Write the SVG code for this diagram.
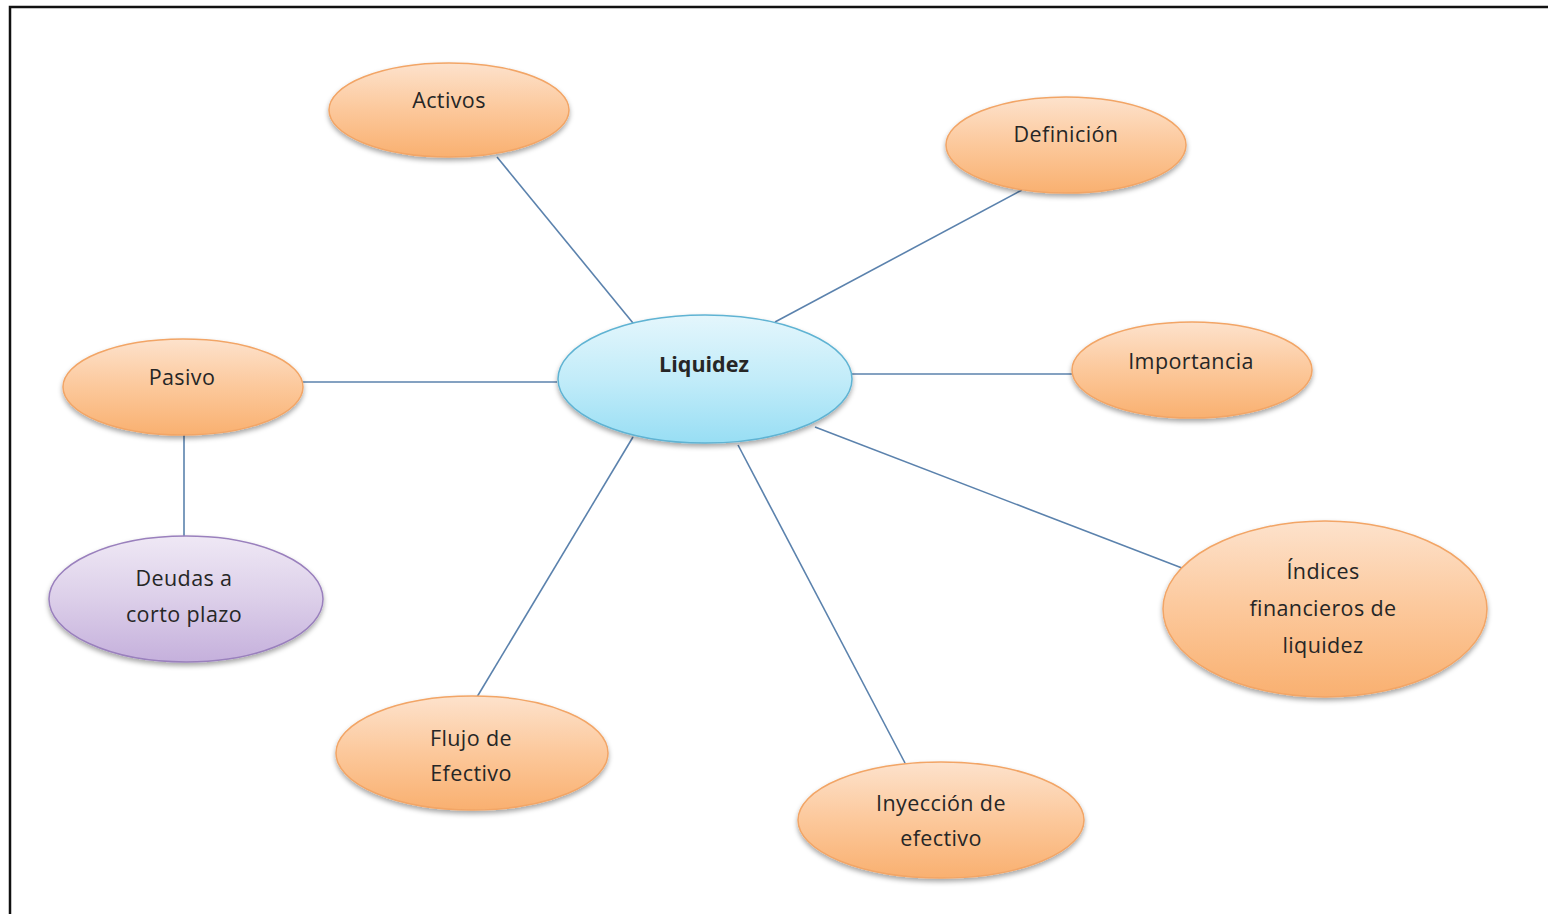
<svg xmlns="http://www.w3.org/2000/svg" width="1548" height="914" viewBox="0 0 1548 914">
  <defs>
    <linearGradient id="gOrange" x1="0" y1="0" x2="0" y2="1">
      <stop offset="0" stop-color="#fde2cc"/>
      <stop offset="0.5" stop-color="#fcc89b"/>
      <stop offset="1" stop-color="#f9b070"/>
    </linearGradient>
    <linearGradient id="gBlue" x1="0" y1="0" x2="0" y2="1">
      <stop offset="0" stop-color="#e4f6fc"/>
      <stop offset="0.5" stop-color="#c2ecf9"/>
      <stop offset="1" stop-color="#98def4"/>
    </linearGradient>
    <linearGradient id="gPurple" x1="0" y1="0" x2="0" y2="1">
      <stop offset="0" stop-color="#efe8f5"/>
      <stop offset="0.5" stop-color="#dccfe9"/>
      <stop offset="1" stop-color="#c5b0dc"/>
    </linearGradient>
    <filter id="shadow" x="-10%" y="-10%" width="120%" height="130%">
      <feDropShadow dx="0" dy="3" stdDeviation="2.5" flood-color="#000" flood-opacity="0.35"/>
    </filter>
  </defs>
  <style>
    .edge { stroke: #5b82ad; stroke-width: 1.6; fill: none; }
    .orange { fill: url(#gOrange); stroke: #f2a566; stroke-width: 1.5; filter: url(#shadow); }
    .blue { fill: url(#gBlue); stroke: #5fb3d3; stroke-width: 1.5; filter: url(#shadow); }
    .purple { fill: url(#gPurple); stroke: #9a80bd; stroke-width: 1.5; filter: url(#shadow); }
    text { font-family: "Open Sans", Lato, "Liberation Sans", sans-serif; font-size: 21.5px; letter-spacing: 0.4px; fill: #262626; text-anchor: middle; }
    .bold { font-weight: bold; letter-spacing: 0; }
  </style>

  <rect width="1548" height="914" fill="#ffffff"/>
  <!-- frame: left and top edges -->
  <path d="M10 914 V7 H1548" fill="none" stroke="#111" stroke-width="2.5"/>

  <g id="connectors">
    <line class="edge" x1="497" y1="157" x2="633" y2="323"/>
    <line class="edge" x1="1022" y1="190" x2="775" y2="322"/>
    <line class="edge" x1="852" y1="374" x2="1073" y2="374"/>
    <line class="edge" x1="303" y1="382" x2="557" y2="382"/>
    <line class="edge" x1="184" y1="435" x2="184" y2="537"/>
    <line class="edge" x1="815" y1="427" x2="1182" y2="568"/>
    <line class="edge" x1="633" y1="437" x2="477" y2="697"/>
    <line class="edge" x1="738" y1="445" x2="905" y2="763"/>
  </g>

  <g id="node-liquidez">
    <ellipse class="blue" cx="705" cy="379" rx="147" ry="64"/>
    <text class="bold" x="704" y="372">Liquidez</text>
  </g>
  <g id="node-activos">
    <ellipse class="orange" cx="449" cy="110" rx="120" ry="47"/>
    <text x="449" y="108">Activos</text>
  </g>
  <g id="node-definicion">
    <ellipse class="orange" cx="1066" cy="145" rx="120" ry="48"/>
    <text x="1066" y="142">Definición</text>
  </g>
  <g id="node-importancia">
    <ellipse class="orange" cx="1192" cy="370" rx="120" ry="48"/>
    <text x="1191" y="369">Importancia</text>
  </g>
  <g id="node-pasivo">
    <ellipse class="orange" cx="183" cy="387" rx="120" ry="48"/>
    <text x="182" y="385">Pasivo</text>
  </g>
  <g id="node-deudas">
    <ellipse class="purple" cx="186" cy="599" rx="137" ry="63"/>
    <text x="184" y="586">Deudas a</text>
    <text x="184" y="622">corto plazo</text>
  </g>
  <g id="node-indices">
    <ellipse class="orange" cx="1325" cy="609" rx="162" ry="88"/>
    <text x="1323" y="579">Índices</text>
    <text x="1323" y="616">financieros de</text>
    <text x="1323" y="653">liquidez</text>
  </g>
  <g id="node-flujo">
    <ellipse class="orange" cx="472" cy="753" rx="136" ry="57"/>
    <text x="471" y="746">Flujo de</text>
    <text x="471" y="781">Efectivo</text>
  </g>
  <g id="node-inyeccion">
    <ellipse class="orange" cx="941" cy="820" rx="143" ry="58"/>
    <text x="941" y="811">Inyección de</text>
    <text x="941" y="846">efectivo</text>
  </g>
</svg>
